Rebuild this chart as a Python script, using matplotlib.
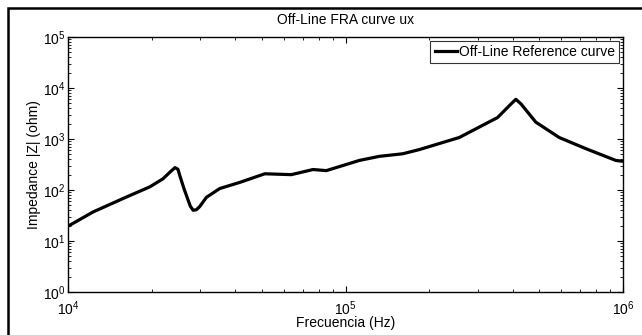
import matplotlib
matplotlib.use("Agg")
import matplotlib.pyplot as plt
from matplotlib.patches import Rectangle
from matplotlib.ticker import LogLocator, NullFormatter

plt.rcParams['font.family'] = ['Liberation Sans', 'DejaVu Sans']
plt.rcParams['mathtext.fontset'] = 'custom'
plt.rcParams['mathtext.rm'] = 'Liberation Sans'
plt.rcParams['mathtext.it'] = 'Liberation Sans'
plt.rcParams['mathtext.default'] = 'regular'

freq_hz = [10000, 12300, 16250, 19700, 22000, 23300, 24300, 24900, 25300, 26200, 27100, 27600,
           28250, 29000, 29800, 31550, 35240, 41600, 51200, 63800, 76400, 85300, 95100,
           112200, 132400, 160700, 184500, 257000, 353000, 395000, 411000, 429000,
           485000, 589000, 735000, 942000, 1000000]
impedance_ohm = [19.5, 37, 73, 115, 166, 224, 275, 255, 190, 105, 63, 48,
                 40, 41, 47, 72, 107, 141, 208, 200, 252, 240, 288,
                 380, 457, 513, 620, 1070, 2630, 4870, 6000, 4870,
                 2140, 1070, 646, 380, 365]

title_text = "Off-Line FRA curve ux"
x_label = "Frecuencia (Hz)"
y_label = "Impedance |Z| (ohm)"
legend_label = "Off-Line Reference curve"

FS = 10
fig = plt.figure(figsize=(6.42, 3.35), dpi=100)
ax = fig.add_axes([68/642, 1-292/335, (623-68)/642, (292-37)/335])

ax.plot(freq_hz, impedance_ohm, color='black', lw=2.3, solid_joinstyle='round',
        label=legend_label)
ax.set_xscale('log')
ax.set_yscale('log')
ax.set_xlim(1e4, 1e6)
ax.set_ylim(1e0, 1e5)

for axis in (ax.xaxis, ax.yaxis):
    axis.set_major_locator(LogLocator(base=10, numticks=10))
    axis.set_minor_locator(LogLocator(base=10, subs=range(2, 10), numticks=20))
    axis.set_minor_formatter(NullFormatter())

ax.tick_params(which='both', direction='in', top=True, right=True, labelsize=FS, colors='black')
ax.tick_params(which='major', length=4, width=0.8)
ax.tick_params(which='minor', length=2.2, width=0.6)
ax.tick_params(axis='x', which='major', pad=5)
ax.tick_params(axis='y', which='major', pad=1.5)
for s in ax.spines.values():
    s.set_linewidth(1.0)

ax.set_title(title_text, fontsize=FS, pad=9)
ax.set_xlabel(x_label, fontsize=FS, labelpad=-1)
ax.set_ylabel(y_label, fontsize=FS, labelpad=2)

leg = ax.legend(loc='upper right', bbox_to_anchor=(1-4/555, 1-4/255), fontsize=FS,
                frameon=True, fancybox=False, handlelength=1.6, handletextpad=0.15,
                borderpad=0.3, borderaxespad=0)
leg.get_frame().set_edgecolor('black')
leg.get_frame().set_linewidth(0.8)

# outer border around figure (partially cropped)
fig.patches.append(Rectangle((8/642, -0.05), 1.1, 1-8/335+0.05, transform=fig.transFigure,
                             fill=False, edgecolor='black', linewidth=1.8, clip_on=False))

fig.savefig('out.png', dpi=100)
